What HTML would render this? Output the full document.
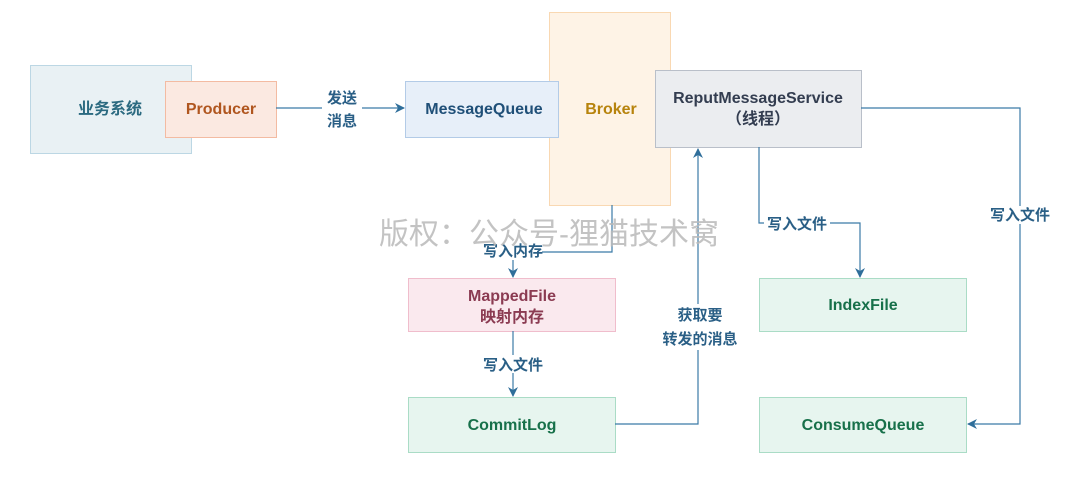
<!DOCTYPE html>
<html><head><meta charset="utf-8"><style>
body{margin:0;background:#fff;}
svg text{font-family:"Liberation Sans","Noto Sans CJK SC",sans-serif;}
</style></head><body>
<svg width="1068" height="479" viewBox="0 0 1068 479" xmlns="http://www.w3.org/2000/svg">
<defs><marker id="a" markerWidth="10" markerHeight="10" refX="9" refY="5" orient="auto" markerUnits="userSpaceOnUse"><path d="M0,0 L10,5 L0,10 L3,5 z" fill="#2f6e9a"/></marker></defs>
<rect x="30.5" y="65.5" width="161" height="88" fill="#e9f1f4" stroke="#bcd7e4"/>
<text x="110" y="114" font-size="16" font-weight="bold" fill="#2b6a80" text-anchor="middle">业务系统</text>
<rect x="165.5" y="81.5" width="111" height="56" fill="#fbe9e1" stroke="#f3bba2"/>
<text x="221" y="114" font-size="16" font-weight="bold" fill="#b0561f" text-anchor="middle">Producer</text>
<rect x="549.5" y="12.5" width="121" height="193" fill="#fef3e6" stroke="#f9d8b2"/>
<rect x="405.5" y="81.5" width="153" height="56" fill="#e7eff9" stroke="#b3cbe7"/>
<text x="484" y="114" font-size="16" font-weight="bold" fill="#1f4f78" text-anchor="middle">MessageQueue</text>
<text x="611" y="114" font-size="16" font-weight="bold" fill="#b7830c" text-anchor="middle">Broker</text>
<rect x="655.5" y="70.5" width="206" height="77" fill="#ebedf0" stroke="#b9bfc9"/>
<text x="758" y="103" font-size="16" font-weight="bold" fill="#333d50" text-anchor="middle">ReputMessageService</text>
<text x="758" y="124" font-size="16" font-weight="bold" fill="#333d50" text-anchor="middle">（线程）</text>
<rect x="408.5" y="278.5" width="207" height="53" fill="#fae9ee" stroke="#f0bdcc"/>
<text x="512" y="301" font-size="16" font-weight="bold" fill="#8b3b52" text-anchor="middle">MappedFile</text>
<text x="512" y="322" font-size="16" font-weight="bold" fill="#8b3b52" text-anchor="middle">映射内存</text>
<rect x="408.5" y="397.5" width="207" height="55" fill="#e7f5ef" stroke="#aadcc6"/>
<text x="512" y="430" font-size="16" font-weight="bold" fill="#17704a" text-anchor="middle">CommitLog</text>
<rect x="759.5" y="278.5" width="207" height="53" fill="#e7f5ef" stroke="#aadcc6"/>
<text x="863" y="310" font-size="16" font-weight="bold" fill="#17704a" text-anchor="middle">IndexFile</text>
<rect x="759.5" y="397.5" width="207" height="55" fill="#e7f5ef" stroke="#aadcc6"/>
<text x="863" y="430" font-size="16" font-weight="bold" fill="#17704a" text-anchor="middle">ConsumeQueue</text>
<g fill="none" stroke="#3b7aa6" stroke-width="1.2">
<path d="M276,108 H404" marker-end="url(#a)"/>
<path d="M612,205 V252 H513 V277" marker-end="url(#a)"/>
<path d="M513,331 V396" marker-end="url(#a)"/>
<path d="M615,424 H698 V149" marker-end="url(#a)"/>
<path d="M759,147 V223 H860 V277" marker-end="url(#a)"/>
<path d="M861,108 H1020 V424 H968" marker-end="url(#a)"/>
</g>
<g font-size="15" font-weight="bold" fill="#2a5f86" text-anchor="middle">
<rect x="322" y="86" width="40" height="44" fill="#fff"/>
<text x="342" y="103">发送</text><text x="342" y="126">消息</text>
<rect x="484" y="242" width="58" height="18" fill="#fff"/>
<text x="513" y="256">写入内存</text>
<rect x="475" y="355" width="76" height="18" fill="#fff"/>
<text x="513" y="370">写入文件</text>
<rect x="665" y="304" width="70" height="46" fill="#fff"/>
<text x="700" y="320">获取要</text><text x="700" y="344">转发的消息</text>
<rect x="764" y="214" width="66" height="18" fill="#fff"/>
<text x="797" y="229">写入文件</text>
<rect x="985" y="206" width="70" height="18" fill="#fff"/>
<text x="1020" y="220">写入文件</text>
</g>
<text x="549" y="244" font-size="30" fill="#b8b8b8" fill-opacity="0.85" text-anchor="middle">版权：公众号-狸猫技术窝</text>
</svg>
</body></html>
